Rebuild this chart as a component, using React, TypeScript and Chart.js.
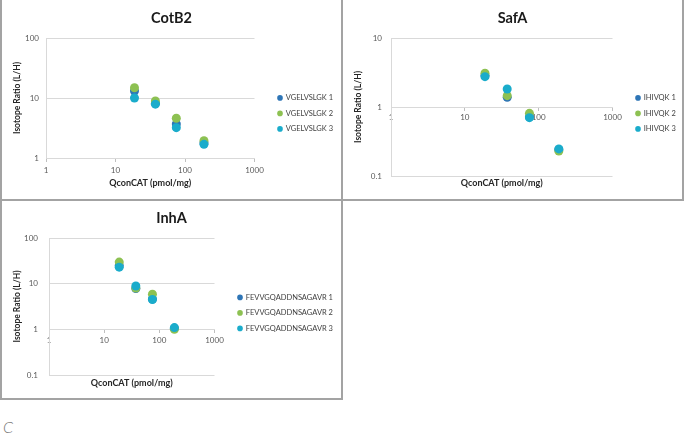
import React, { useEffect, useRef } from "react";
import { Chart, registerables } from "chart.js";

Chart.register(...registerables);

// ---------- data ----------
const X_VALUES = [18.75, 37.5, 75, 187.5];
const X_TICKS = [1, 10, 100, 1000];
const X_TICK_LABELS = ["1", "10", "100", "1000"];
const X_TITLE = "QconCAT (pmol/mg)";
const Y_TITLE = "Isotope Ratio (L/H)";

const COTB2_TITLE = "CotB2";
const COTB2_NAMES = ["VGELVSLGK 1", "VGELVSLGK 2", "VGELVSLGK 3"];
const COTB2_S1 = [13.1, 8.2, 3.7, 1.8];
const COTB2_S2 = [14.8, 8.9, 4.6, 1.94];
const COTB2_S3 = [10.0, 7.9, 3.2, 1.69];
const COTB2_Y_TICKS = [1, 10, 100];
const COTB2_Y_LABELS = ["1", "10", "100"];

const SAFA_TITLE = "SafA";
const SAFA_NAMES = ["IHIVQK 1", "IHIVQK 2", "IHIVQK 3"];
const SAFA_S1 = [2.85, 1.38, 0.72, 0.24];
const SAFA_S2 = [3.08, 1.46, 0.81, 0.23];
const SAFA_S3 = [2.75, 1.82, 0.7, 0.247];
const SAFA_Y_TICKS = [0.1, 1, 10];
const SAFA_Y_LABELS = ["0.1", "1", "10"];

const INHA_TITLE = "InhA";
const INHA_NAMES = ["FEVVGQADDNSAGAVR 1", "FEVVGQADDNSAGAVR 2", "FEVVGQADDNSAGAVR 3"];
const INHA_S1 = [25, 7.8, 4.6, 1.05];
const INHA_S2 = [29.7, 8.0, 5.9, 1.0];
const INHA_S3 = [23, 8.9, 4.5, 1.09];
const INHA_Y_TICKS = [0.1, 1, 10, 100];
const INHA_Y_LABELS = ["0.1", "1", "10", "100"];

// ---------- styles ----------
const FONT = "Lato, 'Open Sans', sans-serif";
const COLORS = ["#2E75B6", "#8DC152", "#1AACCB"];
const GRID = "#d9d9d9";
const TEXT = "#595959";
const BORDER = "2px solid #a3a3a3";

type Layout = {
  w: number;
  h: number;
  yAxisW: number;
  yTickPad: number;
  x2H: number;
  xTitlePadB: number;
  xTickPad: number;
  gap: number;
  legendW: number;
  titlePadT: number;
  titlePadB: number;
  legendPadT: number;
};

type PanelProps = {
  title: string;
  names: string[];
  series: number[][];
  yTicks: number[];
  yLabels: string[];
  box: React.CSSProperties;
  lay: Layout;
};

function ScatterPanel({ title, names, series, yTicks, yLabels, box, lay }: PanelProps) {
  const ref = useRef<HTMLCanvasElement>(null);
  useEffect(() => {
    if (!ref.current) return;
    // gives the legend box a fixed width (Chart.js otherwise caps it at a fraction of the canvas)
    const legendWidthPlugin = {
      id: "legendWidth",
      beforeLayout(chart: any) {
        const lg = chart.legend;
        if (lg && !lg.__fixedWidth) {
          const orig = lg.update.bind(lg);
          lg.update = (mw: number, mh: number, m: any) => {
            orig(Math.max(mw, lay.legendW), mh, m);
            lg.width = lay.legendW;
          };
          lg.__fixedWidth = true;
        }
      },
    };
    const chart = new Chart(ref.current, {
      type: "scatter",
      data: {
        datasets: series.map((vals, i) => ({
          label: names[i],
          data: X_VALUES.map((x, j) => ({ x, y: vals[j] })),
          backgroundColor: COLORS[i],
          borderColor: COLORS[i],
          pointRadius: 4.5,
          pointHoverRadius: 4.5,
          pointBorderWidth: 0,
          borderWidth: 0,
          order: series.length - i,
        })),
      },
      plugins: [legendWidthPlugin],
      options: {
        responsive: false,
        animation: false,
        layout: { padding: 0 },
        plugins: {
          tooltip: { enabled: false },
          title: {
            display: true,
            text: title,
            color: "#1a1a1a",
            font: { family: FONT, size: 14.5, weight: "bold" },
            padding: { top: lay.titlePadT, bottom: lay.titlePadB },
          },
          legend: {
            position: "right",
            align: "start",
            title: {
              display: true,
              text: " ",
              font: { size: 1 },
              padding: { top: lay.legendPadT, bottom: 0 },
            },
            labels: {
              usePointStyle: true,
              pointStyle: "circle",
              boxWidth: 4,
              boxHeight: 4,
              padding: 8,
              color: "#404040",
              font: { family: FONT, size: 7.5 },
              sort: (a: any, b: any) => a.datasetIndex - b.datasetIndex,
            },
          },
        },
        scales: {
          x: {
            type: "logarithmic",
            position: { y: 1 } as any,
            min: X_TICKS[0],
            max: X_TICKS[X_TICKS.length - 1],
            afterBuildTicks: (s: any) => {
              s.ticks = X_TICKS.map((v) => ({ value: v }));
            },
            ticks: {
              callback: (_v: any, i: number) => X_TICK_LABELS[i],
              autoSkip: false,
              maxRotation: 0,
              padding: lay.xTickPad,
              color: TEXT,
              font: { family: FONT, size: 8 },
            },
            grid: {
              drawOnChartArea: false,
              drawTicks: true,
              tickLength: 3,
              color: "#bfbfbf",
            },
            border: { display: true, color: GRID },
          },
          xTitle: {
            type: "logarithmic",
            position: "bottom",
            min: X_TICKS[0],
            max: X_TICKS[X_TICKS.length - 1],
            ticks: { display: false },
            grid: { display: false },
            border: { display: false },
            title: {
              display: true,
              text: X_TITLE,
              color: "#262626",
              font: { family: FONT, size: 9, weight: "bold" },
              padding: { top: 0, bottom: lay.xTitlePadB },
            },
            afterFit: (s: any) => {
              s.height = lay.x2H;
            },
          },
          y: {
            type: "logarithmic",
            position: "left",
            min: yTicks[0],
            max: yTicks[yTicks.length - 1],
            afterBuildTicks: (s: any) => {
              s.ticks = yTicks.map((v) => ({ value: v }));
            },
            ticks: {
              callback: (_v: any, i: number) => yLabels[i],
              padding: lay.yTickPad,
              color: TEXT,
              font: { family: FONT, size: 8 },
            },
            grid: { color: GRID, drawTicks: false },
            border: { display: true, color: GRID },
            title: {
              display: true,
              text: Y_TITLE,
              color: "#262626",
              font: { family: FONT, size: 8.5, weight: "bold" },
              padding: { top: 10, bottom: 0 },
            },
            afterFit: (s: any) => {
              s.width = lay.yAxisW;
            },
          },
          gap: {
            type: "linear",
            position: "right",
            display: true,
            ticks: { display: false },
            grid: { display: false },
            border: { display: false },
            afterFit: (s: any) => {
              s.width = lay.gap;
            },
          },
        },
      } as any,
    });
    return () => chart.destroy();
  }, []);
  return (
    <div style={{ position: "absolute", boxSizing: "border-box", background: "#fff", ...box }}>
      <canvas
        ref={ref}
        width={lay.w}
        height={lay.h}
        style={{ display: "block", width: lay.w, height: lay.h }}
      />
    </div>
  );
}

export default function App() {
  return (
    <div
      style={{
        position: "absolute",
        left: 0,
        top: 0,
        width: 685,
        height: 438,
        background: "#fff",
        overflow: "hidden",
        fontFamily: FONT,
      }}
    >
      <ScatterPanel
        title={COTB2_TITLE}
        names={COTB2_NAMES}
        series={[COTB2_S1, COTB2_S2, COTB2_S3]}
        yTicks={COTB2_Y_TICKS}
        yLabels={COTB2_Y_LABELS}
        box={{ left: 0, top: 0, width: 343, height: 201, borderLeft: BORDER, borderRight: BORDER, borderBottom: BORDER }}
        lay={{ w: 339, h: 199, yAxisW: 44, yTickPad: 7, x2H: 41, xTitlePadB: 10.6, xTickPad: 5, gap: 15.5, legendW: 71, titlePadT: 9.3, titlePadB: 11.3, legendPadT: 85 }}
      />
      <ScatterPanel
        title={SAFA_TITLE}
        names={SAFA_NAMES}
        series={[SAFA_S1, SAFA_S2, SAFA_S3]}
        yTicks={SAFA_Y_TICKS}
        yLabels={SAFA_Y_LABELS}
        box={{ left: 341, top: 0, width: 343, height: 201, borderLeft: BORDER, borderRight: BORDER, borderBottom: BORDER }}
        lay={{ w: 339, h: 199, yAxisW: 48, yTickPad: 9, x2H: 23, xTitlePadB: 10.6, xTickPad: 3, gap: 15.5, legendW: 54, titlePadT: 9.3, titlePadB: 11.3, legendPadT: 85 }}
      />
      <ScatterPanel
        title={INHA_TITLE}
        names={INHA_NAMES}
        series={[INHA_S1, INHA_S2, INHA_S3]}
        yTicks={INHA_Y_TICKS}
        yLabels={INHA_Y_LABELS}
        box={{ left: 0, top: 199, width: 343, height: 201, border: BORDER }}
        lay={{ w: 339, h: 197, yAxisW: 47, yTickPad: 11, x2H: 23, xTitlePadB: 9.6, xTickPad: 3, gap: 15.5, legendW: 111, titlePadT: 8.3, titlePadB: 11.3, legendPadT: 83.5 }}
      />
      <div
        style={{
          position: "absolute",
          left: 3,
          top: 419,
          fontSize: 16,
          lineHeight: "16px",
          fontStyle: "italic",
          fontWeight: 300,
          color: "#7a7a7a",
          fontFamily: FONT,
        }}
      >
        C
      </div>
    </div>
  );
}
